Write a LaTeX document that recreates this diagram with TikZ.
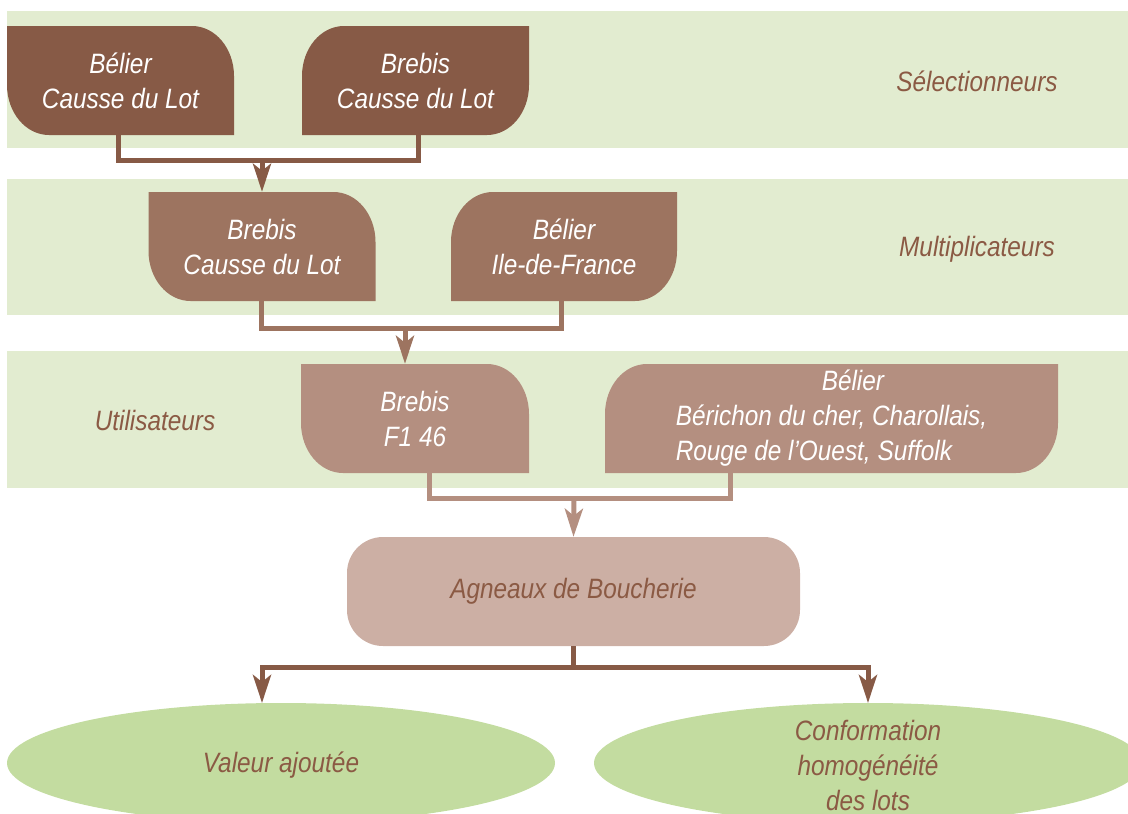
\documentclass[tikz,border=0pt]{standalone}
\usepackage{fontspec}
\setmainfont{Liberation Sans}[FakeStretch=0.87]
\usetikzlibrary{arrows.meta,shapes.geometric}
\definecolor{band}{HTML}{E2ECD0}
\definecolor{cone}{HTML}{875A46}
\definecolor{ctwo}{HTML}{9D7460}
\definecolor{cthree}{HTML}{B48F80}
\definecolor{cfour}{HTML}{CCAFA4}
\definecolor{ell}{HTML}{C3DCA0}
\definecolor{brn}{HTML}{8B5A44}
\begin{document}
\begin{tikzpicture}[x=1pt,y=1pt,
  txt/.style={font=\fontsize{28}{35}\selectfont\itshape, align=center, inner sep=0pt},
  boxA/.style={txt, text=white, fill=band, minimum height=109pt,
    path picture={\fill[#1] (path picture bounding box.north west)
      -- ([xshift=-42pt]path picture bounding box.north east)
      arc[start angle=90,end angle=0,x radius=42pt,y radius=50pt]
      -- (path picture bounding box.south east)
      -- ([xshift=42pt]path picture bounding box.south west)
      arc[start angle=270,end angle=180,x radius=42pt,y radius=50pt] -- cycle;}},
  boxB/.style={txt, text=white, fill=band, minimum height=109pt,
    path picture={\fill[#1] (path picture bounding box.north east)
      -- ([yshift=50pt]path picture bounding box.south east)
      arc[start angle=0,end angle=-90,x radius=42pt,y radius=50pt]
      -- (path picture bounding box.south west)
      -- ([yshift=-50pt]path picture bounding box.north west)
      arc[start angle=180,end angle=90,x radius=42pt,y radius=50pt] -- cycle;}},
  conn/.style={line width=5pt, draw=#1},
  arr/.style={-{Stealth[length=28pt,width=18pt,inset=7pt]}},
  ellnode/.style={ellipse, fill=ell, minimum width=548pt, minimum height=120pt, inner sep=0pt}
]
\useasboundingbox (0,0) rectangle (1128,-814);
\clip (0,0) rectangle (1128,-814);
% bands
\fill[band] (7,-11) rectangle (1128,-148);
\fill[band] (7,-179) rectangle (1128,-315);
\fill[band] (7,-351) rectangle (1128,-488);
% boxes
\node[boxA=cone, minimum width=227pt] (b1) at (120.5,-80.5) {Bélier\\Causse du Lot};
\node[boxB=cone, minimum width=227pt] (b2) at (415.5,-80.5) {Brebis\\Causse du Lot};
\node[boxA=ctwo, minimum width=227pt] (b3) at (262,-246.5) {Brebis\\Causse du Lot};
\node[boxB=ctwo, minimum width=226pt] (b4) at (564,-246.5) {Bélier\\Ile-de-France};
\node[boxA=cthree, minimum width=228pt] (b5) at (415,-418.5) {Brebis\\F1 46};
\node[boxB=cthree, minimum width=453pt, align=left] (b6) at (831.5,-418.5) {\hspace*{146pt}Bélier\\Bérichon du cher, Charollais,\\Rouge de l’Ouest, Suffolk};
\node[txt, text=brn, fill=cfour, rounded corners=36pt, minimum width=453pt, minimum height=109pt] (b7) at (573.5,-591.5) {Agneaux de Boucherie};
% ellipses
\node[ellnode] (e1) at (281,-763) {};
\node[txt, text=brn] (e1t) at (281,-765) {Valeur ajoutée};
\node[ellnode] (e2) at (868,-763) {};
\node[txt, text=brn] (e2t) at (868,-765) {Conformation\\homogénéité\\des lots};
% side labels
\node[txt, text=brn] (l1) at (977,-81) {Sélectionneurs};
\node[txt, text=brn] (l2) at (977,-249) {Multiplicateurs};
\node[txt, text=brn] (l3) at (155,-420) {Utilisateurs};
% connectors
\coordinate (j1) at (262,-160);
\draw[conn=cone] ([xshift=-2.5pt]b1.south) |- (j1) -| ([xshift=2.5pt]b2.south);
\draw[conn=cone, arr] (j1) -- (b3.north);
\coordinate (j2) at (405,-328);
\draw[conn=ctwo] ([xshift=-1pt]b3.south) |- (j2) -| ([xshift=-3pt]b4.south);
\draw[conn=ctwo, arr] (j2) -- (j2 |- b5.north);
\coordinate (j3) at (574,-498);
\draw[conn=cthree] ([xshift=14pt]b5.south) |- (j3) -| ([xshift=-101.5pt]b6.south);
\draw[conn=cthree, arr] (j3) -- (b7.north);
\coordinate (j4) at (573.5,-667);
\coordinate (t1) at (262,-703);
\coordinate (t2) at (868,-703);
\draw[conn=cone] (b7.south) -- (j4);
\draw[conn=cone, arr] (j4) -| (t1);
\draw[conn=cone, arr] (j4) -| (t2);
\end{tikzpicture}
\end{document}
